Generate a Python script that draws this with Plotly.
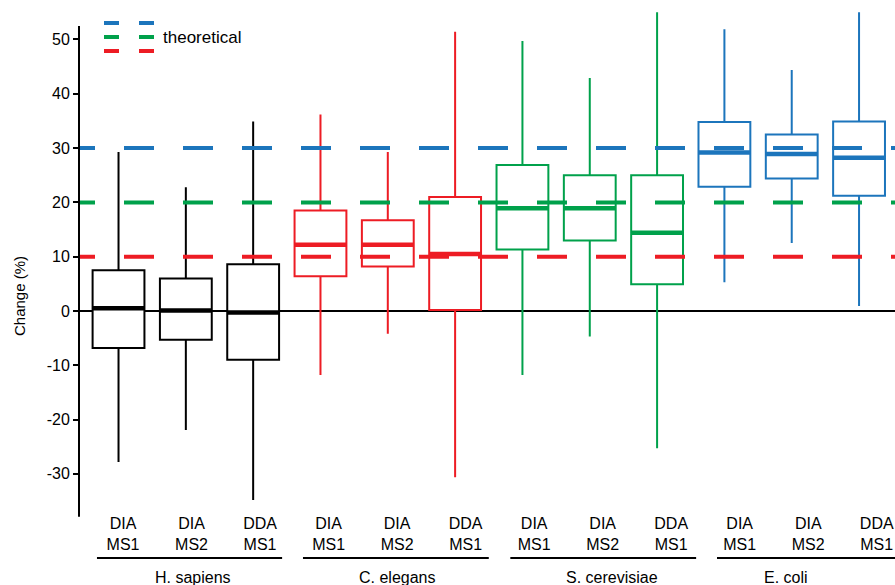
import plotly.graph_objects as go

# ---------------- data ----------------
species = ["H. sapiens", "C. elegans", "S. cerevisiae", "E. coli"]
methods = ["DIA<br>MS1", "DIA<br>MS2", "DDA<br>MS1"]

hs_lower = [-27.8, -21.9, -34.8]
hs_q1 = [-6.8, -5.3, -9.0]
hs_med = [0.5, 0.1, -0.3]
hs_q3 = [7.5, 6.0, 8.6]
hs_upper = [29.3, 22.8, 34.9]

ce_lower = [-11.8, -4.2, -30.6]
ce_q1 = [6.4, 8.2, 0.2]
ce_med = [12.2, 12.2, 10.5]
ce_q3 = [18.5, 16.7, 21.0]
ce_upper = [36.2, 29.3, 51.4]

sc_lower = [-11.8, -4.7, -25.3]
sc_q1 = [11.3, 13.0, 4.9]
sc_med = [18.9, 18.9, 14.4]
sc_q3 = [26.9, 25.0, 25.0]
sc_upper = [49.7, 42.9, 55.0]

ec_lower = [5.3, 12.5, 0.9]
ec_q1 = [22.9, 24.4, 21.2]
ec_med = [29.2, 28.9, 28.2]
ec_q3 = [34.8, 32.5, 34.9]
ec_upper = [51.9, 44.4, 55.0]

theoretical_values = [30, 20, 10]   # E. coli, S. cerevisiae, C. elegans
y_ticks = [-30, -20, -10, 0, 10, 20, 30, 40, 50]
y_ticktext = ["-30", "-20", "-10", "0", "10", "20", "30", "40", "50"]

# ---------------- style ----------------
BLACK = "#000000"
RED = "#ED1C24"
GREEN = "#00A14B"
BLUE = "#1C75BC"
FONT = "Liberation Sans, Arial, sans-serif"

stats = [
    (hs_lower, hs_q1, hs_med, hs_q3, hs_upper, BLACK),
    (ce_lower, ce_q1, ce_med, ce_q3, ce_upper, RED),
    (sc_lower, sc_q1, sc_med, sc_q3, sc_upper, GREEN),
    (ec_lower, ec_q1, ec_med, ec_q3, ec_upper, BLUE),
]
theo_colors = [BLUE, GREEN, RED]

BOX_W = 0.77
fig = go.Figure()

for g, (lo, q1, med, q3, up, col) in enumerate(stats):
    xs = [g * 3 + i for i in range(3)]
    fig.add_trace(go.Box(
        x=xs, q1=q1, median=med, q3=q3, lowerfence=lo, upperfence=up,
        width=BOX_W, whiskerwidth=0, fillcolor="white",
        line=dict(color=col, width=2), boxpoints=False,
        showlegend=False, hoverinfo="skip",
    ))
    mx, my = [], []
    for x, m in zip(xs, med):
        mx += [x - BOX_W / 2, x + BOX_W / 2, None]
        my += [m, m, None]
    fig.add_trace(go.Scatter(
        x=mx, y=my, mode="lines", line=dict(color=col, width=4.5),
        showlegend=False, hoverinfo="skip",
    ))

# theoretical dashed lines (drawn on top of boxes)
for v, col in zip(theoretical_values, theo_colors):
    fig.add_trace(go.Scatter(
        x=[-0.795, 12.2], y=[v, v], mode="lines",
        line=dict(color=col, width=4, dash="30px,29px"),
        showlegend=False, hoverinfo="skip",
    ))

# tick labels sit slightly right of box centres in the reference
tickvals = [0.067 + 1.0178 * i for i in range(12)]
ticktext = methods * 4

PLOT_H = 517


def px(p):
    return (p - 79) / 816


def py(p):
    return (517 - p) / PLOT_H


shapes = []
# y-axis line (shorter than plotting range)
shapes.append(dict(type="line", xref="paper", yref="y", x0=0, x1=0,
                   y0=-37.9, y1=52.5, line=dict(color=BLACK, width=2)))
# group underlines
group_lines = [(-0.32, 2.43), (2.74, 5.50), (5.82, 8.58), (8.89, 11.7)]
UL_Y = py(558)
for a, b in group_lines:
    shapes.append(dict(type="line", xref="x", yref="paper", x0=a, x1=b,
                       y0=UL_Y, y1=UL_Y, line=dict(color=BLACK, width=2)))
# legend dashes
for col, yy in zip(theo_colors, [23, 37, 51]):
    shapes.append(dict(type="line", xref="paper", yref="paper",
                       x0=px(104), x1=px(154), y0=py(yy), y1=py(yy),
                       line=dict(color=col, width=4, dash="15px,20px")))

annotations = [
    dict(text="theoretical", xref="paper", yref="paper", x=px(161), y=py(37),
         xanchor="left", yanchor="middle", showarrow=False,
         font=dict(size=17, color=BLACK, family=FONT)),
    dict(text="Change (%)", xref="paper", yref="paper", x=px(19), y=py(296),
         xanchor="center", yanchor="middle", textangle=-90, showarrow=False,
         font=dict(size=15, color=BLACK, family=FONT)),
]
group_label_x = [1.10, 4.14, 7.33, 9.92]
for name, gx in zip(species, group_label_x):
    annotations.append(dict(text=name, xref="x", yref="paper", x=gx, y=py(577),
                            xanchor="center", yanchor="middle", showarrow=False,
                            font=dict(size=16, color=BLACK, family=FONT)))

fig.update_layout(
    width=895, height=585,
    margin=dict(l=79, r=0, t=0, b=585 - PLOT_H, pad=0),
    plot_bgcolor="white", paper_bgcolor="white",
    font=dict(family=FONT, size=16, color=BLACK),
    shapes=shapes, annotations=annotations,
    showlegend=False,
)
fig.update_xaxes(range=[-0.587, 11.534], showgrid=False, zeroline=False,
                 showline=False, ticks="", tickvals=tickvals, ticktext=ticktext,
                 ticklabelstandoff=-5, ticklabeloverflow="allow",
                 tickfont=dict(size=16, color=BLACK, family=FONT))
fig.update_yaxes(range=[-37.94, 57.27], showgrid=False, zeroline=True,
                 zerolinecolor=BLACK, zerolinewidth=2, showline=False,
                 ticks="outside", ticklen=5, tickwidth=2, tickcolor=BLACK,
                 tickvals=y_ticks, ticktext=y_ticktext,
                 tickfont=dict(size=16, color=BLACK, family=FONT))

fig.write_html(
    "out.html",
    config={"displayModeBar": False},
    post_script="document.body.style.margin='0';document.body.style.overflow='hidden';",
)
